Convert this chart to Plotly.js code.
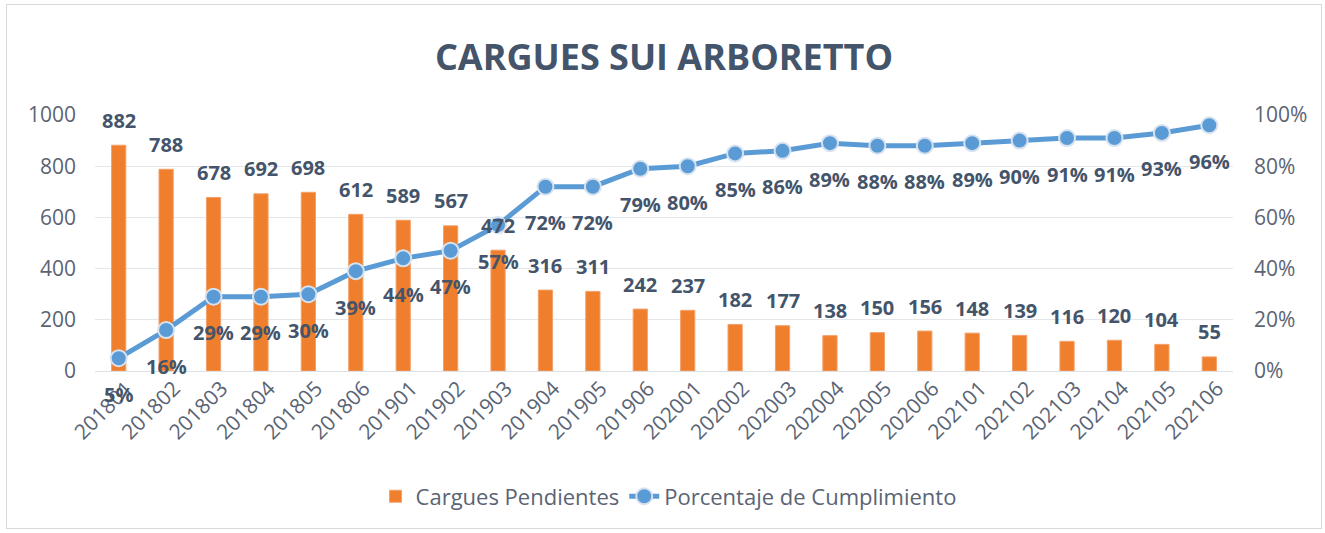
<!DOCTYPE html>
<html>
<head>
<meta charset="utf-8">
<script src="https://cdn.plot.ly/plotly-3.0.1.min.js"></script>
<style>
html,body{margin:0;padding:0;background:#fff;}
#frame{position:absolute;left:6px;top:4px;width:1316px;height:525px;border:1px solid #d9d9d9;box-sizing:border-box;}
#chart{position:absolute;left:0;top:0;width:1325px;height:533px;}
</style>
</head>
<body>
<div id="frame"></div>
<div id="chart"></div>
<script>
const categories = ["201801","201802","201803","201804","201805","201806",
  "201901","201902","201903","201904","201905","201906",
  "202001","202002","202003","202004","202005","202006",
  "202101","202102","202103","202104","202105","202106"];
const carguesPendientes = [882,788,678,692,698,612,589,567,472,316,311,242,237,182,177,138,150,156,148,139,116,120,104,55];
const porcentajeCumplimiento = [0.05,0.16,0.29,0.29,0.30,0.39,0.44,0.47,0.57,0.72,0.72,0.79,0.80,0.85,0.86,0.89,0.88,0.88,0.89,0.90,0.91,0.91,0.93,0.96];

const labelColor = '#44546A';
const tickColor = '#5a6474';
const barColor = '#EF7F2C';
const fontFam = '"Open Sans", "Noto Sans", sans-serif';

const bars = {
  type: 'bar', name: 'Cargues Pendientes',
  x: categories, y: carguesPendientes,
  marker: {color: barColor, line: {width: 1, color: '#F3A06A'}},
  width: 0.3, yaxis: 'y', hoverinfo: 'x+y'
};
const line = {
  type: 'scatter', mode: 'lines+markers', name: 'Porcentaje de Cumplimiento',
  x: categories, y: porcentajeCumplimiento, yaxis: 'y2',
  line: {color: '#5B9BD5', width: 5},
  marker: {symbol: 'circle', size: 16, color: '#5B9BD5', line: {color: '#D6E2EF', width: 2}}
};

// category axes: annotation x given as the category index
const annotations = [];
categories.forEach((c, i) => {
  annotations.push({
    x: i, y: carguesPendientes[i], xref: 'x', yref: 'y',
    text: String(carguesPendientes[i]), showarrow: false,
    yshift: 25, yanchor: 'middle',
    font: {family: fontFam, size: 20, color: labelColor, weight: 'bold'}
  });
  annotations.push({
    x: i, y: porcentajeCumplimiento[i], xref: 'x', yref: 'y2',
    text: Math.round(porcentajeCumplimiento[i] * 100) + '%', showarrow: false,
    yshift: -36, yanchor: 'middle',
    font: {family: fontFam, size: 20, color: labelColor, weight: 'bold'}
  });
});

const layout = {
  width: 1325, height: 533,
  paper_bgcolor: 'rgba(0,0,0,0)', plot_bgcolor: 'rgba(0,0,0,0)',
  margin: {l: 95, r: 92, t: 115, b: 162},
  title: {text: '<b>CARGUES SUI ARBORETTO</b>', x: 0.5, xanchor: 'center', y: 0.893, yanchor: 'middle',
    xref: 'paper',
    font: {family: fontFam, size: 36, color: '#44546A'}},
  showlegend: true,
  legend: {orientation: 'h', x: 0.504, xanchor: 'center', y: -0.49, yanchor: 'middle',
    font: {family: fontFam, size: 22, color: tickColor}, traceorder: 'normal'},
  bargap: 0.7,
  xaxis: {type: 'category', range: [-0.5, categories.length - 0.5], autorange: false,
    tickangle: -45, showgrid: false, zeroline: false, showline: false, ticklabelshift: 8,
    ticks: '', tickfont: {family: fontFam, size: 21, color: tickColor}},
  yaxis: {range: [0, 1000], dtick: 200, showgrid: true, gridcolor: '#e3e6ea', gridwidth: 1,
    zeroline: true, zerolinecolor: '#dde1e6', zerolinewidth: 1, showline: false, ticks: '',
    ticklabelstandoff: 18,
    tickfont: {family: fontFam, size: 21, color: tickColor}},
  yaxis2: {range: [0, 1], dtick: 0.2, tickformat: '.0%', overlaying: 'y', side: 'right',
    showgrid: false, zeroline: false, showline: false, ticks: '', ticklabelstandoff: 20,
    tickfont: {family: fontFam, size: 21, color: tickColor}},
  annotations: annotations
};

Plotly.newPlot('chart', [bars, line], layout, {displayModeBar: false, staticPlot: true});
</script>
</body>
</html>
